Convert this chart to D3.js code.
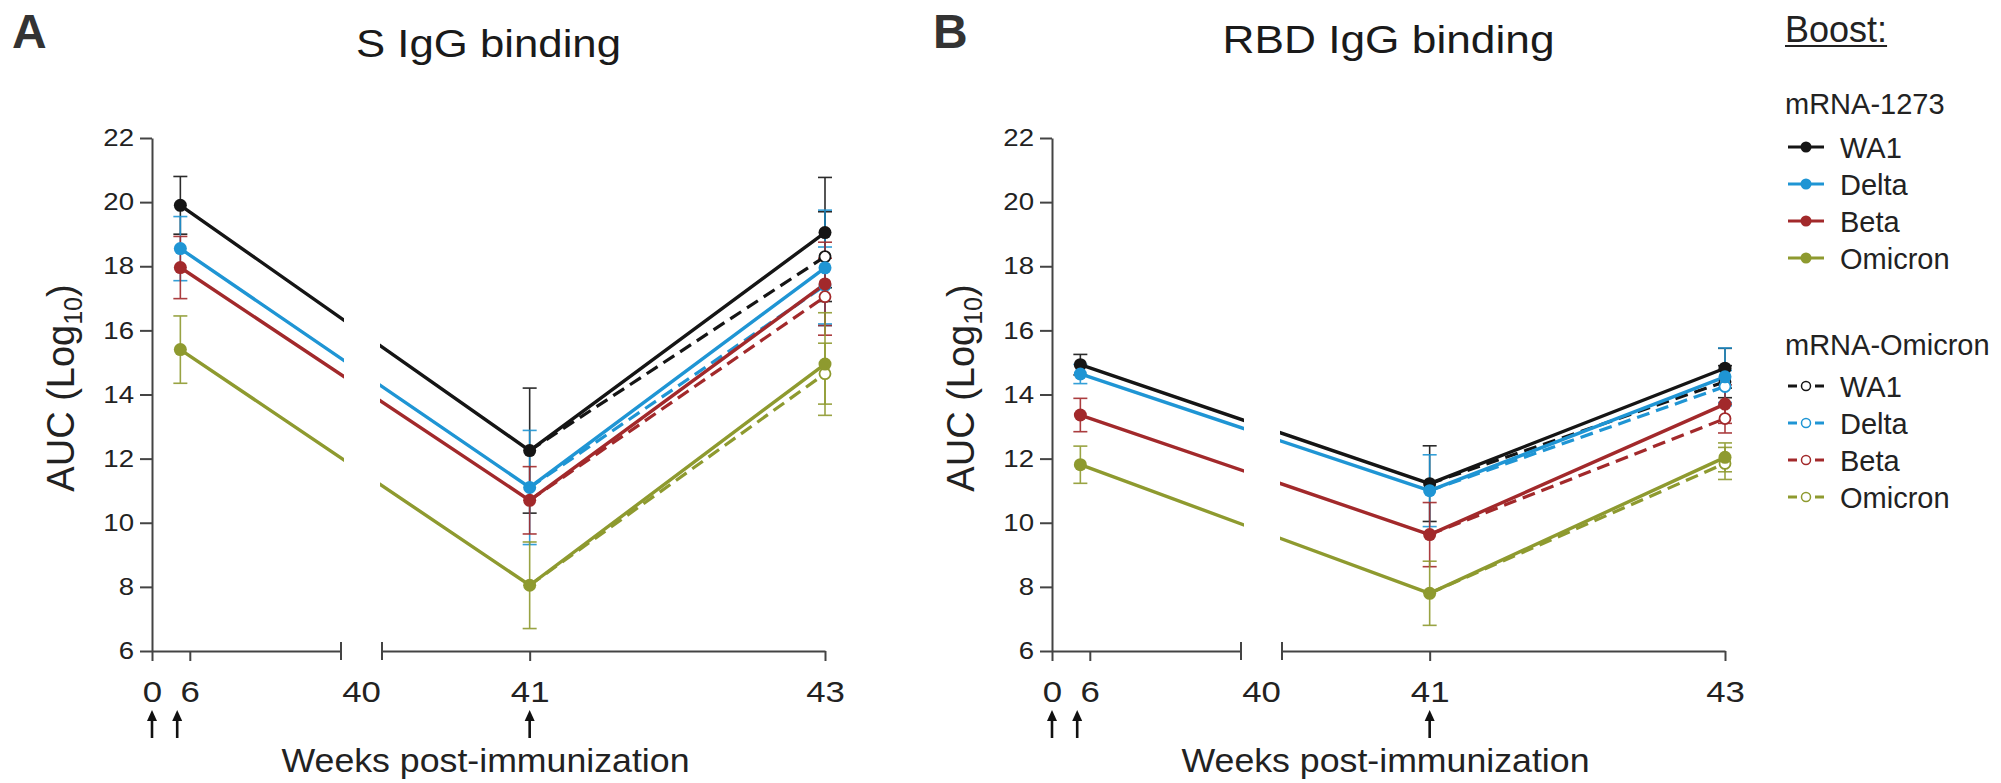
<!DOCTYPE html>
<html>
<head>
<meta charset="utf-8">
<script src="https://cdn.jsdelivr.net/npm/d3@7"></script>
<style>
  body { margin: 0; background: #fff; }
  svg { display: block; font-family: "Liberation Sans", Arial, sans-serif; }
</style>
</head>
<body>
<div id="chart"></div>
<script>
// 1. DATA
const weeks = [4.5, 41, 43];        // sampling weeks for the mRNA-1273 boost groups
const dashedWeeks = [41, 43];       // mRNA-Omicron boost groups start at the boost
const variants = ["WA1", "Delta", "Beta", "Omicron"];
const variantColors = ["#151515", "#1f95d4", "#a2292b", "#8e9a2f"];

const yTickValues = [6, 8, 10, 12, 14, 16, 18, 20, 22];
const xTickValues = [0, 6, 41, 43];
const breakLabel = "40";
const arrowWeeks = [0, 4, 41];      // immunization / boost arrows

// S IgG binding, rows follow `variants`
const sBoost1273 = [[19.9, 12.25, 19.05], [18.55, 11.1, 17.95], [17.96, 10.7, 17.45], [15.4, 8.05, 14.95]];
const sBoost1273Sd = [[0.9, 1.95, 1.72], [1.0, 1.78, 1.8], [0.97, 1.05, 1.3], [1.05, 1.35, 1.6]];
const sBoostOmicron = [[12.25, 18.3], [11.1, 17.4], [10.7, 17.05], [8.05, 14.65]];
const sBoostOmicronSd = [[1.95, 1.4], [1.78, 1.2], [1.05, 1.2], [1.35, 0.95]];

// RBD IgG binding
const rBoost1273 = [[14.93, 11.22, 14.82], [14.64, 11.0, 14.55], [13.36, 9.63, 13.7], [11.81, 7.8, 12.04]];
const rBoost1273Sd = [[0.32, 1.18, 0.62], [0.3, 1.12, 0.9], [0.52, 1.0, 0.6], [0.58, 1.0, 0.45]];
const rBoostOmicron = [[11.22, 14.4], [11.0, 14.25], [9.63, 13.25], [7.8, 11.85]];
const rBoostOmicronSd = [[1.18, 0.5], [1.12, 0.5], [1.0, 0.45], [1.0, 0.5]];

// 2. SET UP SVG
const WIDTH = 2001, HEIGHT = 783;
const svg = d3.select("#chart").append("svg")
    .attr("width", WIDTH)
    .attr("height", HEIGHT);

const plotW = 673, plotH = 513;
const axisColor = "#444";

// 3. SCALES - the x axis is broken between week 30 and week 40
const yScale = d3.scaleLinear().domain([6, 22]).range([plotH, 0]);
const xLeft = d3.scaleLinear().domain([0, 30]).range([0, 189]);
const xRight = d3.scaleLinear().domain([40, 43]).range([230, plotW]);
const xScale = d3.scaleLinear()
    .domain([0, 30, 40, 43])
    .range([0, xLeft(30), xRight(40), plotW]);

// stretch text a bit sideways, the figure fonts are wide
function stretch(sel, k) {
  sel.each(function () {
    const t = d3.select(this);
    const x = +t.attr("x") || 0, y = +t.attr("y") || 0;
    t.attr("x", 0).attr("y", 0)
     .attr("transform", `translate(${x},${y}) scale(${k},1)`);
  });
}

function drawPanel(p) {
  const g = svg.append("g").attr("transform", `translate(${p.left},${p.top})`);

  // panel letter + title
  svg.append("text")
      .attr("x", p.letterX).attr("y", 48)
      .attr("font-size", 48).attr("font-weight", "bold").attr("fill", "#333")
      .text(p.letter);

  svg.append("text")
      .attr("x", p.left + plotW / 2).attr("y", p.titleY)
      .attr("text-anchor", "middle")
      .attr("font-size", 38)
      .attr("textLength", p.titleWidth).attr("lengthAdjust", "spacingAndGlyphs")
      .attr("fill", "#1a1a1a")
      .text(p.title);

  // 4. Axes
  const yAxis = g.append("g")
      .call(d3.axisLeft(yScale).tickValues(yTickValues).tickSize(12).tickPadding(6).tickSizeOuter(0));

  const xAxisL = g.append("g").attr("transform", `translate(0,${plotH})`)
      .call(d3.axisBottom(xLeft).tickValues(xTickValues.filter(d => d <= 30))
        .tickFormat(d3.format("d")).tickSize(10).tickPadding(20).tickSizeOuter(0));
  const xAxisR = g.append("g").attr("transform", `translate(0,${plotH})`)
      .call(d3.axisBottom(xRight).tickValues(xTickValues.filter(d => d >= 40))
        .tickFormat(d3.format("d")).tickSize(10).tickPadding(20).tickSizeOuter(0));

  [yAxis, xAxisL, xAxisR].forEach(a => {
    a.select(".domain").attr("stroke", axisColor).attr("stroke-width", 2);
    a.selectAll(".tick line").attr("stroke", axisColor).attr("stroke-width", 2);
    a.selectAll(".tick text").attr("fill", "#222").attr("font-family", null);
  });
  yAxis.selectAll(".tick text").attr("font-size", 24);
  stretch(yAxis.selectAll(".tick text"), 1.15);
  [xAxisL, xAxisR].forEach(a => {
    a.selectAll(".tick text").attr("font-size", 29);
    stretch(a.selectAll(".tick text"), 1.2);
  });

  // break markers at both ends of the gap
  g.selectAll(".break")
      .data([xLeft(30), xRight(40)])
      .enter().append("line")
      .attr("x1", d => d).attr("x2", d => d)
      .attr("y1", plotH - 9).attr("y2", plotH + 9)
      .attr("stroke", axisColor).attr("stroke-width", 2);

  g.append("text")
      .attr("x", (xLeft(30) + xRight(40)) / 2)
      .attr("y", plotH + 30 + 0.71 * 29)
      .attr("text-anchor", "middle").attr("font-size", 29).attr("fill", "#222")
      .text(breakLabel)
      .call(s => stretch(s, 1.2));

  // immunization arrows
  const arrows = g.selectAll(".arrow").data(arrowWeeks).enter().append("g")
      .attr("transform", d => `translate(${xScale(d)},${plotH + 59})`);
  arrows.append("line").attr("y1", 8).attr("y2", 87 - 59)
      .attr("stroke", "#111").attr("stroke-width", 2.6);
  arrows.append("path").attr("d", "M0,0 L-5,11 L5,11 Z").attr("fill", "#111");

  // axis titles
  const yTitle = svg.append("text")
      .attr("transform", `translate(${p.left - 78},${p.top + 250}) rotate(-90)`)
      .attr("text-anchor", "middle").attr("font-size", 38).attr("fill", "#222");
  yTitle.append("tspan").text("AUC (Log");
  yTitle.append("tspan").attr("font-size", 25).attr("dy", 8).text("10");
  yTitle.append("tspan").attr("dy", -8).text(")");

  svg.append("text")
      .attr("x", p.left + plotW / 2 - 3).attr("y", 772)
      .attr("text-anchor", "middle").attr("font-size", 34)
      .attr("textLength", 408).attr("lengthAdjust", "spacingAndGlyphs")
      .attr("fill", "#222")
      .text("Weeks post-immunization");

  // 5. Lines, clipped so they break with the axis
  const clipId = "gap-" + p.letter;
  const clip = g.append("clipPath").attr("id", clipId);
  clip.append("rect").attr("x", -40).attr("y", -40)
      .attr("width", xLeft(30) + 3 + 40).attr("height", plotH + 80);
  clip.append("rect").attr("x", xRight(40) - 2).attr("y", -40)
      .attr("width", plotW - xRight(40) + 42).attr("height", plotH + 80);

  const solid = p.solid.map((vals, i) => ({
    color: variantColors[i],
    pts: weeks.map((w, j) => ({ week: w, value: vals[j], sd: p.solidSd[i][j] }))
  }));
  const dashed = p.dashed.map((vals, i) => ({
    color: variantColors[i],
    pts: dashedWeeks.map((w, j) => ({ week: w, value: vals[j], sd: p.dashedSd[i][j] }))
  }));

  const line = d3.line().x(d => xScale(d.week)).y(d => yScale(d.value));

  // error bars
  const errG = g.append("g");
  [...dashed.map(s => ({ color: s.color, pts: s.pts.slice(1) })), ...solid].forEach(s => {
    s.pts.forEach(d => {
      const cx = xScale(d.week);
      const e = errG.append("g").attr("stroke", s.color).attr("stroke-width", 1.6).attr("opacity", 0.9);
      e.append("line").attr("x1", cx).attr("x2", cx)
          .attr("y1", yScale(d.value + d.sd)).attr("y2", yScale(d.value - d.sd));
      [d.value + d.sd, d.value - d.sd].forEach(v => {
        e.append("line").attr("x1", cx - 7).attr("x2", cx + 7)
            .attr("y1", yScale(v)).attr("y2", yScale(v));
      });
    });
  });

  const lineG = g.append("g").attr("clip-path", `url(#${clipId})`);
  lineG.selectAll(".dashed").data(dashed).enter().append("path")
      .attr("d", d => line(d.pts))
      .attr("fill", "none").attr("stroke", d => d.color)
      .attr("stroke-width", 3.2).attr("stroke-dasharray", "13,7");
  lineG.selectAll(".solid").data(solid).enter().append("path")
      .attr("d", d => line(d.pts))
      .attr("fill", "none").attr("stroke", d => d.color).attr("stroke-width", 3.4);

  // markers
  dashed.forEach(s => {
    g.append("circle")
        .attr("cx", xScale(s.pts[1].week)).attr("cy", yScale(s.pts[1].value))
        .attr("r", 5.5).attr("fill", "#fff").attr("stroke", s.color).attr("stroke-width", 1.8);
  });
  solid.forEach(s => {
    g.selectAll(null).data(s.pts).enter().append("circle")
        .attr("cx", d => xScale(d.week)).attr("cy", d => yScale(d.value))
        .attr("r", 6.5).attr("fill", s.color);
  });
}

drawPanel({
  letter: "A", letterX: 12, left: 152, top: 138,
  title: "S IgG binding", titleY: 57, titleWidth: 265,
  solid: sBoost1273, solidSd: sBoost1273Sd,
  dashed: sBoostOmicron, dashedSd: sBoostOmicronSd
});

drawPanel({
  letter: "B", letterX: 933, left: 1052, top: 138,
  title: "RBD IgG binding", titleY: 53, titleWidth: 332,
  solid: rBoost1273, solidSd: rBoost1273Sd,
  dashed: rBoostOmicron, dashedSd: rBoostOmicronSd
});

// 6. LEGEND
function createLegend() {
  const legendX = 1785;
  const boost = svg.append("text")
      .attr("x", legendX).attr("y", 42)
      .attr("font-size", 36).attr("fill", "#222")
      .text("Boost:");
  const bw = boost.node().getComputedTextLength();
  svg.append("line")
      .attr("x1", legendX).attr("x2", legendX + bw)
      .attr("y1", 46).attr("y2", 46)
      .attr("stroke", "#222").attr("stroke-width", 2);

  const groups = [
    { header: "mRNA-1273", headerY: 114, rowY: 147, dashed: false },
    { header: "mRNA-Omicron", headerY: 355, rowY: 386, dashed: true }
  ];
  const rowGap = 37;

  groups.forEach(grp => {
    svg.append("text")
        .attr("x", legendX).attr("y", grp.headerY)
        .attr("font-size", 29).attr("fill", "#222")
        .text(grp.header);

    const rows = svg.selectAll(null).data(variants).enter().append("g")
        .attr("transform", (d, i) => `translate(${legendX + 3},${grp.rowY + i * rowGap})`);

    if (grp.dashed) {
      rows.append("line").attr("x1", 0).attr("x2", 9)
          .attr("stroke", (d, i) => variantColors[i]).attr("stroke-width", 3);
      rows.append("line").attr("x1", 27).attr("x2", 36)
          .attr("stroke", (d, i) => variantColors[i]).attr("stroke-width", 3);
      rows.append("circle").attr("cx", 18).attr("r", 4.5)
          .attr("fill", "#fff").attr("stroke", (d, i) => variantColors[i]).attr("stroke-width", 1.5);
    } else {
      rows.append("line").attr("x1", 0).attr("x2", 36)
          .attr("stroke", (d, i) => variantColors[i]).attr("stroke-width", 3);
      rows.append("circle").attr("cx", 18).attr("r", 5.5)
          .attr("fill", (d, i) => variantColors[i]);
    }

    rows.append("text")
        .attr("x", 52).attr("y", 11)
        .attr("font-size", 29).attr("fill", "#222")
        .text(d => d);
  });
}

createLegend();
</script>
</body>
</html>
